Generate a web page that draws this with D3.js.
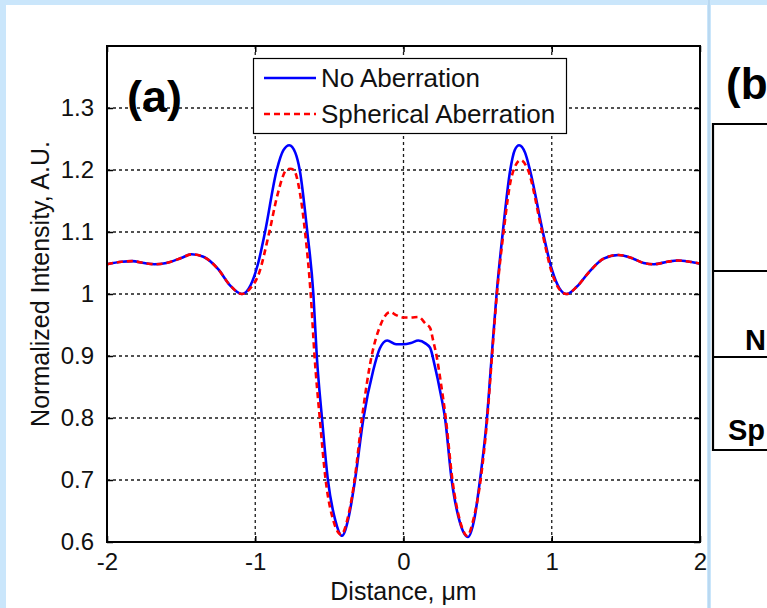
<!DOCTYPE html>
<html>
<head>
<meta charset="utf-8">
<script src="https://cdn.jsdelivr.net/npm/d3@7"></script>
<style>
  html, body { margin: 0; padding: 0; background: #cae6fb; }
  svg { display: block; }
  text { font-family: "Liberation Sans", Arial, Helvetica, sans-serif; }
</style>
</head>
<body>
<svg id="chart" width="767" height="608"></svg>
<script>
// ---- Data ----
const xTicks = [-2, -1, 0, 1, 2];
const xTickLabels = ["-2", "-1", "0", "1", "2"];
const yTicks = [0.6, 0.7, 0.8, 0.9, 1.0, 1.1, 1.2, 1.3];
const yTickLabels = ["0.6", "0.7", "0.8", "0.9", "1", "1.1", "1.2", "1.3"];

const seriesNames = ["No Aberration", "Spherical Aberration"];
// visible fragments of the neighbouring panel (b), cut by the page edge
const panelBLabels = ["(b", "N", "Sp"];

const noAbX = [-2.0,-1.9,-1.83,-1.75,-1.68,-1.6,-1.5,-1.43,-1.35,-1.25,-1.17,-1.09,-1.03,-0.98,-0.934,-0.855,-0.81,-0.77,-0.73,-0.70,-0.649,-0.608,-0.585,-0.55,-0.51,-0.46,-0.415,-0.37,-0.327,-0.27,-0.204,-0.16,-0.11,-0.05,0.0,0.05,0.1,0.15,0.18,0.21,0.25,0.28,0.325,0.38,0.435,0.48,0.516,0.563,0.595,0.628,0.67,0.72,0.75,0.78,0.82,0.853,0.94,1.0,1.05,1.10,1.17,1.25,1.35,1.45,1.55,1.62,1.69,1.78,1.85,1.93,2.0];
const noAbY = [1.048,1.052,1.053,1.050,1.048,1.050,1.058,1.064,1.060,1.040,1.014,1.000,1.015,1.050,1.100,1.200,1.232,1.240,1.228,1.200,1.100,1.000,0.900,0.800,0.700,0.635,0.610,0.640,0.700,0.800,0.877,0.912,0.925,0.919,0.919,0.921,0.925,0.920,0.913,0.885,0.840,0.800,0.700,0.632,0.608,0.640,0.700,0.800,0.900,1.000,1.100,1.200,1.232,1.240,1.228,1.200,1.100,1.040,1.010,1.000,1.012,1.035,1.057,1.063,1.057,1.050,1.048,1.052,1.054,1.052,1.049];

const sphX = [-2.0,-1.9,-1.83,-1.75,-1.68,-1.6,-1.5,-1.43,-1.35,-1.25,-1.17,-1.09,-1.03,-0.98,-0.905,-0.85,-0.79,-0.765,-0.74,-0.70,-0.664,-0.626,-0.60,-0.565,-0.525,-0.47,-0.42,-0.37,-0.33,-0.28,-0.215,-0.16,-0.09,-0.05,0.0,0.05,0.1,0.15,0.18,0.2,0.224,0.25,0.285,0.33,0.38,0.43,0.475,0.52,0.565,0.597,0.63,0.675,0.73,0.79,0.84,0.935,1.0,1.05,1.10,1.17,1.25,1.35,1.45,1.55,1.62,1.69,1.78,1.85,1.93,2.0];
const sphY = [1.048,1.052,1.053,1.050,1.048,1.050,1.058,1.064,1.060,1.040,1.014,1.000,1.010,1.030,1.100,1.160,1.200,1.202,1.200,1.165,1.100,1.000,0.900,0.800,0.700,0.632,0.612,0.645,0.700,0.800,0.900,0.947,0.971,0.966,0.962,0.962,0.963,0.952,0.945,0.925,0.899,0.860,0.800,0.700,0.635,0.610,0.640,0.700,0.800,0.900,1.000,1.100,1.190,1.216,1.200,1.100,1.035,1.008,1.000,1.012,1.035,1.057,1.063,1.057,1.050,1.048,1.052,1.054,1.052,1.049];

// ---- Drawing ----
const svg = d3.select("#chart");
const W = 767, H = 608;

// page panels
svg.append("rect").attr("x", 0).attr("y", 0).attr("width", W).attr("height", H).attr("fill", "#cae6fb");
svg.append("rect").attr("x", 6).attr("y", 5).attr("width", 701).attr("height", H - 5).attr("fill", "#ffffff");
svg.append("rect").attr("x", 711).attr("y", 5).attr("width", W - 711).attr("height", H - 5).attr("fill", "#ffffff");

const plot = { left: 107, right: 700, top: 46, bottom: 542 };
const x = d3.scaleLinear().domain([-2, 2]).range([plot.left, plot.right]);
const y = d3.scaleLinear().domain([0.6, 1.4]).range([plot.bottom, plot.top]);

const g = svg.append("g");

// grid
const gridStyle = s => s.attr("stroke", "#1a1a1a").attr("stroke-width", 1.3).attr("stroke-dasharray", "3,3");
xTicks.slice(1, -1).forEach(t => {
  g.append("line").attr("x1", x(t)).attr("x2", x(t)).attr("y1", plot.top).attr("y2", plot.bottom).call(gridStyle);
});
yTicks.slice(1).forEach(t => {
  g.append("line").attr("x1", plot.left).attr("x2", plot.right).attr("y1", y(t)).attr("y2", y(t)).call(gridStyle);
});

// axes (D3 axes, inward ticks, mirrored)
const axisFont = 24;
const xAxis = d3.axisBottom(x).tickValues(xTicks).tickFormat((d, i) => xTickLabels[i]).tickSizeInner(-6).tickSizeOuter(0).tickPadding(11);
const yAxis = d3.axisLeft(y).tickValues(yTicks).tickFormat((d, i) => yTickLabels[i]).tickSizeInner(-6).tickSizeOuter(0).tickPadding(13);
const xAxisTop = d3.axisTop(x).tickValues(xTicks).tickFormat("").tickSizeInner(-6).tickSizeOuter(0);
const yAxisRight = d3.axisRight(y).tickValues(yTicks).tickFormat("").tickSizeInner(-6).tickSizeOuter(0);

function styleAxis(sel) {
  sel.select(".domain").remove();
  sel.selectAll(".tick line").attr("stroke", "#000").attr("stroke-width", 1.5);
  sel.selectAll(".tick text").attr("fill", "#111").attr("font-size", axisFont)
     .attr("font-family", "'Liberation Sans', Arial, sans-serif");
}
g.append("g").attr("transform", `translate(0,${plot.bottom})`).call(xAxis).call(styleAxis);
g.append("g").attr("transform", `translate(${plot.left},0)`).call(yAxis).call(styleAxis);
g.append("g").attr("transform", `translate(0,${plot.top})`).call(xAxisTop).call(styleAxis);
g.append("g").attr("transform", `translate(${plot.right},0)`).call(yAxisRight).call(styleAxis);

// lines
const line = d3.line().x(d => x(d[0])).y(d => y(d[1])).curve(d3.curveMonotoneX);
const blueData = d3.zip(noAbX, noAbY);
const redData = d3.zip(sphX, sphY);
g.append("path").datum(blueData).attr("d", line).attr("fill", "none")
  .attr("stroke", "#0000ff").attr("stroke-width", 2.6);
g.append("path").datum(redData).attr("d", line).attr("fill", "none")
  .attr("stroke", "#ff0000").attr("stroke-width", 2.6).attr("stroke-dasharray", "6,4");

// frame
g.append("rect").attr("x", plot.left).attr("y", plot.top)
  .attr("width", plot.right - plot.left).attr("height", plot.bottom - plot.top)
  .attr("fill", "none").attr("stroke", "#000").attr("stroke-width", 2);

// axis titles
svg.append("text").attr("x", (plot.left + plot.right) / 2).attr("y", 600)
  .attr("text-anchor", "middle").attr("font-size", 25).attr("fill", "#111")
  .text("Distance, \u03BCm");
svg.append("text").attr("transform", `translate(49,${(plot.top + plot.bottom) / 2 - 10}) rotate(-90)`)
  .attr("text-anchor", "middle").attr("font-size", 25).attr("fill", "#111")
  .text("Normalized Intensity, A.U.");

// panel label
svg.append("text").attr("x", 127).attr("y", 112).attr("font-size", 45).attr("font-weight", "bold")
  .attr("fill", "#000").text("(a)");

// legend
const leg = svg.append("g");
leg.append("rect").attr("x", 253.5).attr("y", 58.5).attr("width", 313).attr("height", 75)
  .attr("fill", "#fff").attr("stroke", "#000").attr("stroke-width", 1.2);
const legColors = ["#0000ff", "#ff0000"];
const legDash = [null, "6,4"];
seriesNames.forEach((name, i) => {
  const ly = 78 + i * 36;
  leg.append("line").attr("x1", 264).attr("x2", 316).attr("y1", ly).attr("y2", ly)
    .attr("stroke", legColors[i]).attr("stroke-width", 2.6).attr("stroke-dasharray", legDash[i]);
  leg.append("text").attr("x", 321).attr("y", ly).attr("dy", "0.35em")
    .attr("font-size", 26).attr("fill", "#111").text(name);
});

// separator between panels (drawn over the clipped "2")
svg.append("rect").attr("x", 707).attr("y", 0).attr("width", 4).attr("height", H).attr("fill", "#cae6fb");
svg.append("line").attr("x1", 709).attr("x2", 709).attr("y1", 0).attr("y2", H).attr("stroke", "#a9cbe6").attr("stroke-width", 1);

// partial panel (b)
const pb = svg.append("g");
pb.append("text").attr("x", 726).attr("y", 99).attr("font-size", 44).attr("font-weight", "bold").attr("fill", "#000").text(panelBLabels[0]);
pb.append("path").attr("d", "M767,124 H713 V450 H767 M713,271 H767 M713,357 H767")
  .attr("fill", "none").attr("stroke", "#000").attr("stroke-width", 2.2);
pb.append("text").attr("x", 745).attr("y", 350).attr("font-size", 29).attr("font-weight", "bold").attr("fill", "#000").text(panelBLabels[1]);
pb.append("text").attr("x", 728).attr("y", 440).attr("font-size", 29).attr("font-weight", "bold").attr("fill", "#000").text(panelBLabels[2]);
</script>
</body>
</html>
